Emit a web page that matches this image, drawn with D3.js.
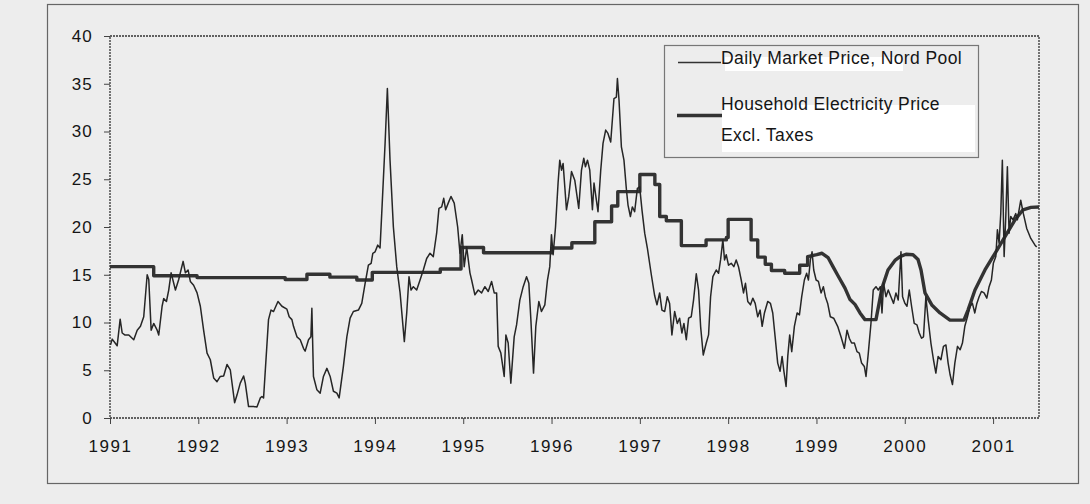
<!DOCTYPE html>
<html>
<head>
<meta charset="utf-8">
<script src="https://cdn.jsdelivr.net/npm/d3@7"></script>
<style>
  html, body { margin: 0; padding: 0; background: #ededed; }
  svg { display: block; }
  text { font-family: "Liberation Sans", Arial, Helvetica, sans-serif; fill: #151515; }
</style>
</head>
<body>
<svg id="chart" width="1090" height="504"></svg>
<script>
// Tick labels
const yearLabels = ["1991","1992","1993","1994","1995","1996","1997","1998","1999","2000","2001"];
const yTicks = [0, 5, 10, 15, 20, 25, 30, 35, 40];

// Daily market price, Nord Pool (time in decimal years)
const marketTime = [
  1991.006,1991.025,1991.062,1991.081,1991.115,1991.138,1991.167,1991.213,1991.269,1991.308,
  1991.345,1991.382,1991.421,1991.439,1991.466,1991.495,1991.534,1991.552,1991.590,1991.608,
  1991.639,1991.665,1991.692,1991.741,1991.778,1991.828,1991.854,1991.884,1991.910,1991.947,
  1991.986,1992.023,1992.060,1992.099,1992.136,1992.174,1992.212,1992.249,1992.287,1992.325,
  1992.362,1992.411,1992.438,1992.475,1992.513,1992.532,1992.569,1992.626,1992.664,1992.702,
  1992.721,1992.739,1992.795,1992.823,1992.852,1992.902,1992.947,1993.003,1993.029,1993.060,
  1993.078,1993.117,1993.154,1993.191,1993.210,1993.248,1993.275,1993.286,1993.304,1993.343,
  1993.380,1993.417,1993.456,1993.493,1993.530,1993.569,1993.595,1993.643,1993.682,1993.719,
  1993.756,1993.813,1993.851,1993.889,1993.926,1993.957,1993.976,1994.002,1994.032,1994.058,
  1994.077,1994.115,1994.141,1994.171,1994.209,1994.247,1994.285,1994.333,1994.360,1994.386,
  1994.409,1994.435,1994.473,1994.511,1994.548,1994.586,1994.624,1994.661,1994.699,1994.725,
  1994.756,1994.779,1994.801,1994.830,1994.861,1994.898,1994.937,1994.963,1994.989,1995.011,
  1995.039,1995.076,1995.095,1995.132,1995.170,1995.208,1995.245,1995.283,1995.321,1995.351,
  1995.378,1995.396,1995.426,1995.464,1995.483,1995.509,1995.539,1995.577,1995.604,1995.641,
  1995.679,1995.717,1995.743,1995.766,1995.796,1995.822,1995.856,1995.886,1995.924,1995.954,
  1995.980,1995.999,1996.018,1996.045,1996.074,1996.093,1996.113,1996.131,1996.169,1996.195,
  1996.226,1996.263,1996.308,1996.339,1996.365,1996.384,1996.407,1996.433,1996.463,1996.481,
  1996.526,1996.557,1996.583,1996.613,1996.639,1996.670,1996.707,1996.734,1996.746,1996.764,
  1996.791,1996.820,1996.848,1996.866,1996.893,1996.915,1996.941,1996.972,1996.998,1997.024,
  1997.055,1997.085,1997.130,1997.168,1997.194,1997.224,1997.250,1997.281,1997.311,1997.337,
  1997.363,1997.394,1997.424,1997.450,1997.476,1997.499,1997.526,1997.552,1997.582,1997.608,
  1997.639,1997.665,1997.688,1997.718,1997.752,1997.778,1997.801,1997.827,1997.865,1997.891,
  1997.914,1997.940,1997.959,1997.978,1998.004,1998.035,1998.064,1998.091,1998.117,1998.148,
  1998.174,1998.196,1998.222,1998.253,1998.279,1998.306,1998.335,1998.362,1998.385,1998.411,
  1998.448,1998.479,1998.505,1998.532,1998.561,1998.588,1998.611,1998.629,1998.656,1998.675,
  1998.697,1998.720,1998.750,1998.781,1998.807,1998.833,1998.863,1998.889,1998.909,1998.931,
  1998.950,1998.969,1998.996,1999.022,1999.052,1999.078,1999.101,1999.127,1999.157,1999.195,
  1999.240,1999.278,1999.316,1999.346,1999.372,1999.398,1999.429,1999.459,1999.485,1999.511,
  1999.542,1999.561,1999.587,1999.617,1999.643,1999.674,1999.700,1999.723,1999.742,1999.760,
  1999.787,1999.813,1999.843,1999.873,1999.900,1999.926,1999.957,1999.975,2000.002,2000.025,
  2000.051,2000.077,2000.107,2000.138,2000.164,2000.190,2000.212,2000.239,2000.265,2000.296,
  2000.325,2000.352,2000.378,2000.409,2000.438,2000.466,2000.491,2000.514,2000.540,2000.567,
  2000.597,2000.627,2000.653,2000.680,2000.710,2000.740,2000.766,2000.793,2000.816,2000.842,
  2000.868,2000.898,2000.929,2000.955,2000.981,2001.003,2001.031,2001.049,2001.068,2001.087,
  2001.105,2001.125,2001.144,2001.162,2001.181,2001.200,2001.226,2001.257,2001.275,2001.313,
  2001.343,2001.381,2001.427,2001.475,2001.494
];
const marketPrice = [
  7.66,8.26,7.8,7.56,10.35,8.9,8.7,8.7,8.2,9.2,
  9.6,10.6,15.0,14.5,9.2,9.9,9.2,8.7,11.7,12.5,
  12.2,13.4,15.2,13.4,14.5,16.4,15.2,15.5,14.3,13.9,
  13.1,11.7,9.2,6.8,6.1,4.2,3.8,4.35,4.4,5.6,
  5.05,1.6,2.4,3.65,4.4,3.65,1.2,1.2,1.15,2.1,
  2.25,2.1,10.3,11.3,11.15,12.2,11.7,11.4,10.6,10.3,
  9.6,8.5,8.2,7.3,7.0,8.2,8.5,11.5,4.35,2.95,
  2.6,4.35,5.2,4.35,2.8,2.6,2.1,5.4,8.5,10.45,
  11.15,11.3,12.0,14.1,16.0,16.2,17.25,17.4,18.1,17.8,
  21.4,28.75,34.5,27.0,20.0,15.85,13.1,8.0,11.0,14.8,
  13.4,13.75,13.4,14.45,15.5,16.7,17.25,16.9,19.35,21.95,
  22.1,23.0,21.8,22.5,23.2,22.5,20.0,17.25,19.2,15.85,
  17.9,15.2,14.45,12.9,13.4,13.1,13.75,13.25,14.3,13.1,
  13.1,7.5,6.8,4.35,8.7,7.85,3.65,8.5,9.75,12.35,
  13.75,14.8,14.1,10.3,4.7,9.6,12.2,11.15,11.85,14.45,
  15.85,19.2,17.1,20.0,24.6,27.0,25.95,26.65,21.8,23.2,
  25.8,24.9,21.95,25.95,27.2,26.3,27.0,25.95,21.8,24.6,
  21.6,25.95,28.75,30.15,29.8,28.9,33.45,33.6,35.55,33.3,
  28.4,27.0,23.9,22.3,21.1,22.1,21.6,24.05,24.2,21.8,
  19.35,17.8,15.0,12.8,11.85,13.1,11.3,11.15,12.7,12.0,
  8.7,11.15,9.9,10.45,8.9,9.9,8.2,10.45,10.6,12.35,
  15.1,13.4,9.6,6.6,7.85,8.7,12.7,14.8,15.5,15.15,
  16.55,18.65,16.55,17.1,16.0,16.2,15.85,16.55,15.85,14.45,
  13.1,14.1,12.2,11.85,12.55,12.0,10.6,11.3,9.6,11.0,
  12.2,12.0,11.0,8.5,5.75,4.9,6.45,5.05,3.3,6.45,
  8.7,6.95,9.6,11.0,10.8,12.7,14.45,15.15,14.45,16.55,
  17.4,15.5,14.45,14.3,13.1,13.75,12.7,12.0,10.6,10.45,
  9.6,8.5,7.3,9.2,8.35,7.85,7.85,6.95,6.8,5.75,
  5.4,4.35,6.8,9.9,13.4,13.75,13.4,13.75,11.0,14.1,
  12.7,13.4,12.7,12.0,13.1,12.35,17.4,12.7,12.0,11.7,
  13.4,11.7,9.9,9.75,8.9,8.35,8.5,12.7,10.3,7.85,
  6.1,4.7,6.45,6.1,7.5,7.65,5.75,4.5,3.5,5.75,
  7.5,7.15,7.85,9.6,10.6,11.7,12.0,11.0,12.0,12.7,
  13.25,13.1,12.55,13.75,14.45,16.2,16.9,19.7,18.3,21.4,
  27.0,16.9,21.1,26.3,19.35,21.1,20.75,21.4,20.75,22.8,
  21.4,19.85,18.8,18.1,17.9
];

// Household electricity price excl. taxes; tariff changes appear as a
// repeated date carrying the old and the new price.
const householdTime = [
  1991.0,1991.495,1991.495,1991.986,1991.986,1992.984,1992.984,1993.23,1993.23,1993.49,
  1993.49,1993.795,1993.795,1993.97,1993.97,1994.74,1994.74,1994.975,1994.975,1995.23,
  1995.23,1996.006,1996.006,1996.23,1996.23,1996.49,1996.49,1996.68,1996.68,1996.75,
  1996.75,1997.0,1997.0,1997.17,1997.17,1997.225,1997.225,1997.30,1997.30,1997.47,
  1997.47,1997.75,1997.75,1997.98,1997.98,1998.0,1998.0,1998.26,1998.26,1998.335,
  1998.335,1998.42,1998.42,1998.49,1998.49,1998.64,1998.64,1998.81,1998.81,1998.90,
  1998.90,1999.003,1999.063,1999.131,1999.187,1999.244,1999.323,1999.380,1999.436,1999.493,
  1999.549,1999.674,1999.742,1999.810,1999.889,1999.946,2000.014,2000.093,2000.150,2000.184,
  2000.229,2000.309,2000.399,2000.512,2000.670,2000.716,2000.795,2000.908,2001.022,2001.135,
  2001.248,2001.339,2001.429,2001.52
];
const householdPrice = [
  15.85,15.85,14.9,14.9,14.7,14.7,14.5,14.5,15.05,15.05,
  14.75,14.75,14.45,14.45,15.25,15.25,15.6,15.6,17.85,17.85,
  17.3,17.3,17.8,17.8,18.35,18.35,20.55,20.55,22.2,22.2,
  23.7,23.7,25.5,25.5,24.45,24.45,21.1,21.1,20.65,20.65,
  18.05,18.05,18.65,18.65,18.9,18.9,20.8,20.8,18.65,18.65,
  16.85,16.85,16.1,16.1,15.45,15.45,15.15,15.15,16.0,16.0,
  16.9,17.1,17.25,16.8,15.85,14.9,13.6,12.4,11.9,11.0,
  10.3,10.3,13.6,15.5,16.5,16.9,17.15,17.1,16.6,15.5,
  13.1,11.8,11.0,10.25,10.25,11.3,13.4,15.5,17.25,19.0,
  20.75,21.8,22.05,22.1
];

const seriesLabels = ["Daily Market Price, Nord Pool", "Household Electricity Price", "Excl. Taxes"];

const svg = d3.select("#chart");
const plot = { left: 110, right: 1039, top: 36, bottom: 418 };

const x = d3.scaleLinear().domain([1991, 2001.52]).range([plot.left, plot.right]);
const y = d3.scaleLinear().domain([0, 40]).range([plot.bottom, plot.top]);

// Outer frame
svg.append("rect")
  .attr("x", 47.5).attr("y", 4.5).attr("width", 1031).attr("height", 479)
  .attr("fill", "none").attr("stroke", "#666").attr("stroke-width", 1.2);

// Plot frame (dotted)
svg.append("rect")
  .attr("x", plot.left).attr("y", plot.top)
  .attr("width", plot.right - plot.left).attr("height", plot.bottom - plot.top)
  .attr("fill", "none").attr("stroke", "#333").attr("stroke-width", 1.3)
  .attr("stroke-dasharray", "2,1");

// Y axis
const yAxis = d3.axisLeft(y).tickValues(yTicks).tickSize(6).tickPadding(11);
const gy = svg.append("g").attr("transform", `translate(${plot.left},0)`).call(yAxis);
gy.select(".domain").remove();
gy.selectAll(".tick line").attr("stroke", "#444");
gy.selectAll(".tick text")
  .style("font-size", "17px").style("letter-spacing", "1.2px")
  .attr("fill", "#151515");

// X axis
const xAxis = d3.axisBottom(x)
  .tickValues(yearLabels.map(Number))
  .tickFormat((d, i) => yearLabels[i])
  .tickSize(6).tickPadding(16);
const gx = svg.append("g").attr("transform", `translate(0,${plot.bottom})`).call(xAxis);
gx.select(".domain").remove();
gx.selectAll(".tick line").attr("stroke", "#444");
gx.selectAll(".tick text")
  .style("font-size", "17px").style("letter-spacing", "1.6px")
  .attr("fill", "#151515");

// Series
const market = marketTime.map((t, i) => [t, marketPrice[i]]);
const household = householdTime.map((t, i) => [t, householdPrice[i]]);

svg.append("path")
  .datum(household)
  .attr("fill", "none").attr("stroke", "#333").attr("stroke-width", 3.4)
  .attr("stroke-linejoin", "round")
  .attr("d", d3.line().x(d => x(d[0])).y(d => y(d[1])));

svg.append("path")
  .datum(market)
  .attr("fill", "none").attr("stroke", "#262626").attr("stroke-width", 1.5)
  .attr("stroke-linejoin", "round")
  .attr("d", d3.line().x(d => x(d[0])).y(d => y(d[1])));

// Legend
const lg = svg.append("g");
lg.append("rect")
  .attr("x", 664.5).attr("y", 45.5).attr("width", 314).attr("height", 112)
  .attr("fill", "#ededed").attr("stroke", "#777").attr("stroke-width", 1.2);
lg.append("rect").attr("x", 725).attr("y", 57).attr("width", 178).attr("height", 14).attr("fill", "#fff");
lg.append("rect").attr("x", 722).attr("y", 105).attr("width", 253).attr("height", 47).attr("fill", "#fff");
lg.append("line")
  .attr("x1", 678).attr("x2", 721).attr("y1", 62.5).attr("y2", 62.5)
  .attr("stroke", "#333").attr("stroke-width", 1.5);
lg.append("line")
  .attr("x1", 677).attr("x2", 722).attr("y1", 115.5).attr("y2", 115.5)
  .attr("stroke", "#333").attr("stroke-width", 3.4);
lg.append("text").attr("x", 721).attr("y", 63.5)
  .style("font-size", "17.5px").style("letter-spacing", "0.4px").text(seriesLabels[0]);
lg.append("text").attr("x", 721).attr("y", 109.5)
  .style("font-size", "17.5px").style("letter-spacing", "0.4px").text(seriesLabels[1]);
lg.append("text").attr("x", 721).attr("y", 141)
  .style("font-size", "17.5px").style("letter-spacing", "0.4px").text(seriesLabels[2]);
</script>
</body>
</html>
